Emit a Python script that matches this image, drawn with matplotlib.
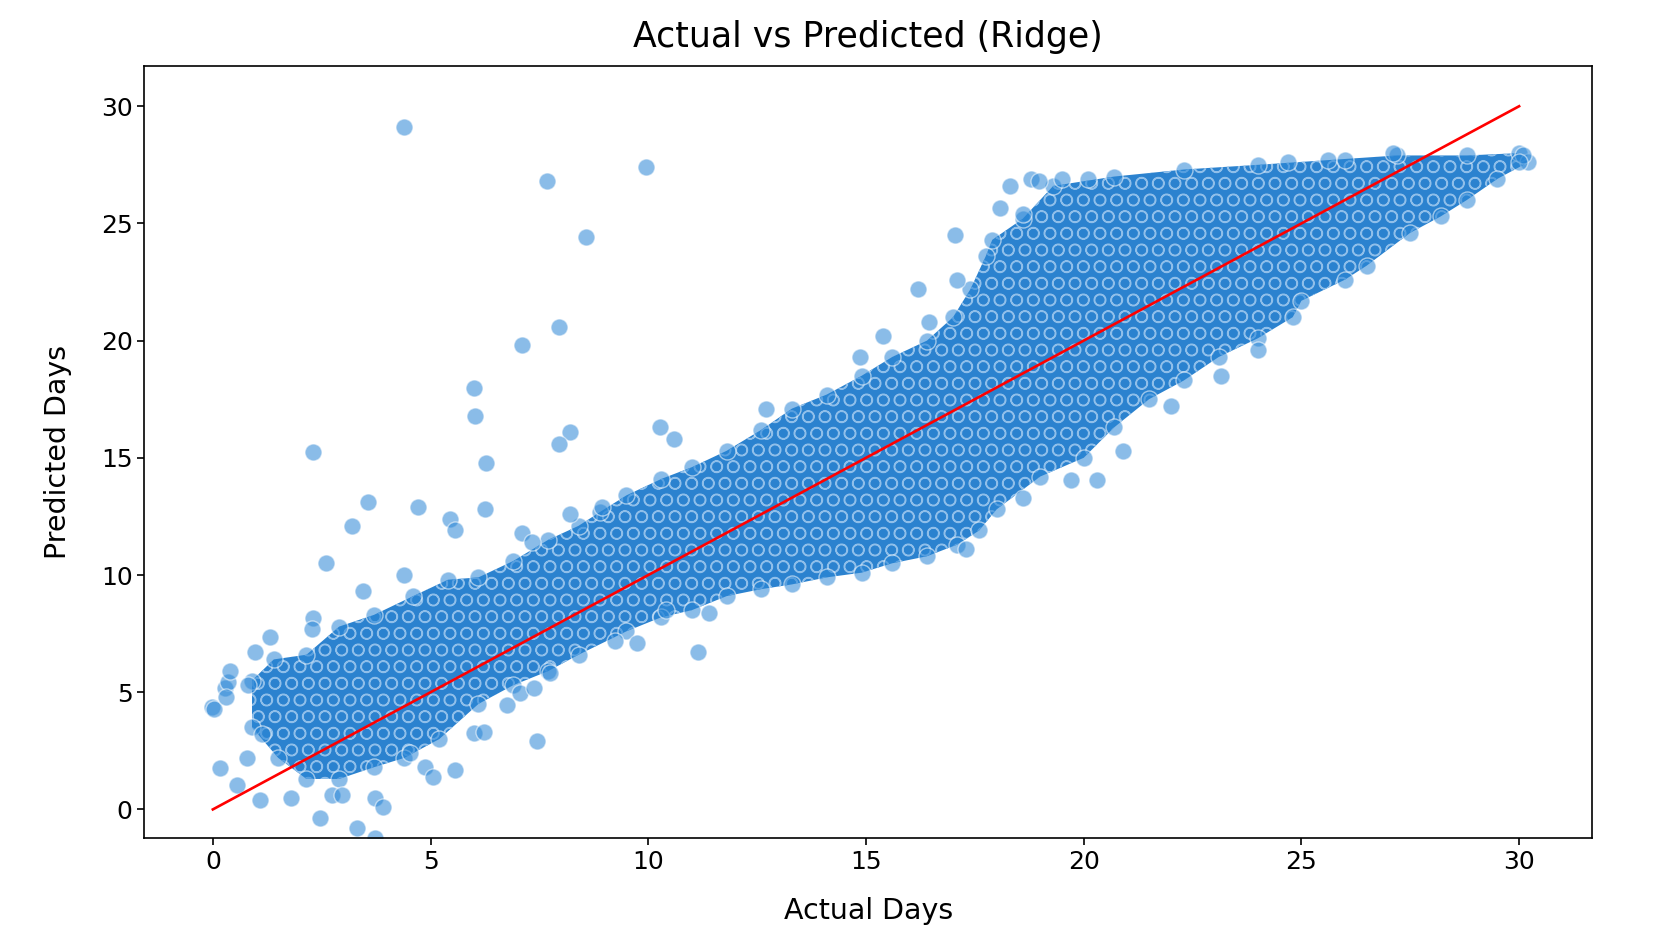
import matplotlib
matplotlib.use("Agg")
import matplotlib.pyplot as plt

# outline of the dense cloud (actual days, predicted days)
upper_x = [0.9, 1.4, 2.15, 2.9, 3.7, 4.6, 5.4, 6.1, 6.9, 7.7, 8.4, 8.9, 9.5, 10.3, 11.0,
           11.8, 12.6, 13.3, 14.1, 14.9, 15.6, 16.4, 17.0, 17.4, 17.75, 17.9, 18.6, 19.3,
           20.7, 22.3, 24.0, 25.6, 27.2, 28.8, 30.0]
upper_y = [5.5, 6.4, 6.6, 7.8, 8.3, 9.1, 9.8, 9.9, 10.6, 11.5, 12.1, 12.7, 13.4, 14.1, 14.6,
           15.3, 16.2, 17.1, 17.7, 18.5, 19.3, 20.0, 21.0, 22.2, 23.6, 24.3, 25.2, 26.6,
           27.0, 27.3, 27.5, 27.7, 27.9, 27.9, 28.0]
lower_x = [30.2, 29.5, 28.8, 28.2, 27.5, 26.5, 26.0, 25.0, 24.8, 24.0, 23.1, 22.3, 21.5,
           20.7, 20.0, 19.0, 18.0, 17.6, 17.1, 16.4, 15.6, 14.9, 14.1, 13.3, 12.6, 11.8,
           11.0, 10.3, 9.5, 8.4, 7.7, 6.9, 6.1, 5.2, 4.4, 3.7, 2.9, 2.15, 1.5, 0.9]
lower_y = [27.6, 26.9, 26.0, 25.3, 24.6, 23.2, 22.6, 21.7, 21.0, 20.1, 19.3, 18.3, 17.5,
           16.3, 15.0, 14.2, 12.8, 11.9, 11.3, 10.8, 10.5, 10.1, 9.9, 9.6, 9.4, 9.1,
           8.5, 8.2, 7.6, 6.6, 5.9, 5.3, 4.5, 3.0, 2.2, 1.8, 1.3, 1.3, 2.2, 3.5]

# loose points around the cloud
loose_x = [4.38, 9.94, 7.67, 8.57, 7.96, 7.09, 6.0, 6.01, 8.2, 7.94, 10.27, 10.6, 6.27,
           2.3, 3.56, 3.2, 4.72, 5.44, 5.56, 6.25, 2.6, 4.38, 3.46, 7.1, 7.33, 8.2, 8.93,
           12.7, 14.86, 15.4, 16.2, 16.45, 17.04, 17.1, 18.07, 18.3, 18.6, 18.8, 18.97,
           -0.03, 0.02, 0.28, 0.35, 0.97, 1.31, 2.3, 2.28, 1.12, 0.17, 0.78, 0.55, 1.08,
           1.8, 2.45, 2.73, 2.96, 3.3, 3.72, 3.9, 3.72, 4.87, 5.05, 4.52, 5.56, 6.0, 6.23,
           6.75, 7.44, 7.05, 7.37, 7.74, 9.23, 11.4, 11.15, 9.73, 10.4, 0.3, 0.8, 0.4,
           17.3, 19.7, 20.3, 22.0, 23.15, 24.0, 20.9, 18.6, 27.1, 30.1, 30.0, 20.1, 19.5,
           24.7, 26.0]
loose_y = [29.1, 27.4, 26.8, 24.4, 20.6, 19.8, 18.0, 16.8, 16.1, 15.6, 16.3, 15.8, 14.8,
           15.25, 13.1, 12.1, 12.9, 12.4, 11.9, 12.8, 10.5, 10.0, 9.3, 11.8, 11.4, 12.6, 12.9,
           17.1, 19.3, 20.2, 22.2, 20.8, 24.5, 22.6, 25.65, 26.6, 25.4, 26.9, 26.8,
           4.38, 4.3, 5.2, 5.45, 6.7, 7.35, 8.15, 7.7, 3.2, 1.75, 2.2, 1.04, 0.4,
           0.48, -0.37, 0.6, 0.6, -0.8, 0.48, 0.1, -1.2, 1.8, 1.38, 2.4, 1.68, 3.25, 3.3,
           4.45, 2.9, 4.95, 5.2, 5.8, 7.2, 8.4, 6.7, 7.1, 8.5, 4.8, 5.3, 5.9,
           11.1, 14.05, 14.05, 17.2, 18.5, 19.6, 15.3, 13.3, 28.0, 27.9, 27.6, 26.9, 26.9,
           27.6, 27.7]

ideal = [0, 30]

plt.rcParams["hatch.linewidth"] = 1.0

fig = plt.figure(figsize=(16.53, 9.51), dpi=100)
ax = fig.add_axes([0.0874, 0.1188, 0.8756, 0.8114])

band_x = upper_x + lower_x
band_y = upper_y + lower_y
# dense core: too many overlapping dots to read one by one, drawn as a textured area
ax.fill(band_x, band_y, facecolor="#2b82cf", edgecolor="#8fbfea", linewidth=0,
        hatch="O", zorder=1)

pt_color = "#2a86d6"
ax.scatter(band_x, band_y, s=150, color=pt_color, alpha=0.55, edgecolors="white",
           linewidths=1.0, zorder=2)
ax.scatter(loose_x, loose_y, s=150, color=pt_color, alpha=0.55, edgecolors="white",
           linewidths=1.0, zorder=2)

ax.plot(ideal, ideal, color="red", linewidth=1.9, zorder=3)

ax.set_xlim(-1.57, 31.67)
ax.set_ylim(-1.22, 31.7)
ax.set_xticks([0, 5, 10, 15, 20, 25, 30])
ax.set_yticks([0, 5, 10, 15, 20, 25, 30])
ax.tick_params(labelsize=18, length=5, width=1.2)
for sp in ax.spines.values():
    sp.set_linewidth(1.2)

ax.set_title("Actual vs Predicted (Ridge)", fontsize=25, pad=14)
ax.set_xlabel("Actual Days", fontsize=20.5, labelpad=17)
ax.set_ylabel("Predicted Days", fontsize=20.5, labelpad=21)

fig.savefig("out.png", dpi=100, facecolor="white")
